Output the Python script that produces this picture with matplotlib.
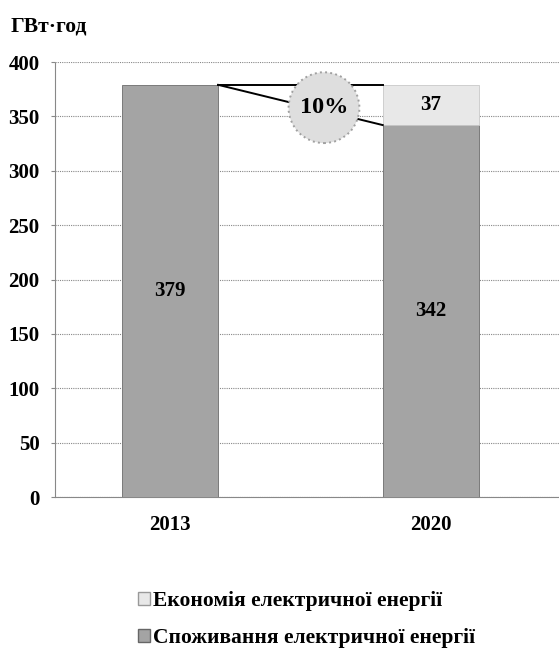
import matplotlib.pyplot as plt
from matplotlib.patches import Patch

years = ["2013", "2020"]
consumption = [379, 342]
saving = [0, 37]
saving_pct = "10%"
y_ticks = [0, 50, 100, 150, 200, 250, 300, 350, 400]
labels = ["Економія електричної енергії", "Споживання електричної енергії"]

plt.rcParams['font.family'] = ['Liberation Serif', 'DejaVu Serif']
plt.rcParams['font.weight'] = 'bold'

fig = plt.figure(figsize=(5.59, 6.52), dpi=100)
ax = fig.add_axes([0.0984, 0.2377, 0.9016, 0.6672])

x = list(range(len(years)))
w = 0.37
c_low = "#a4a4a4"
c_top = "#e8e8e8"

ax.bar(x, consumption, width=w, color=c_low, edgecolor="#7a7a7a", linewidth=0.7, zorder=3)
ax.bar(x[1], saving[1], bottom=consumption[1], width=w, color=c_top,
       edgecolor="#c8c8c8", linewidth=0.6, zorder=3)

for xi, v in zip(x, consumption):
    ax.text(xi, v / 2, str(v), ha="center", va="center", fontsize=15, fontweight="bold", zorder=5)
ax.text(x[1], consumption[1] + saving[1] / 2, str(saving[1]), ha="center", va="center",
        fontsize=15, fontweight="bold", zorder=5)

# connector lines between bars
ax.plot([x[0] + w / 2, x[1] - w / 2], [consumption[0], consumption[0]], color="black", lw=1.4, zorder=4)
ax.plot([x[0] + w / 2, x[1] - w / 2], [consumption[0], consumption[1]], color="black", lw=1.4, zorder=4)

# percent bubble
ax.scatter([0.59], [358], s=2600, color="#dedede", edgecolor="#a0a0a0", linewidth=1.4,
           linestyle=":", zorder=6)
ax.text(0.59, 358, saving_pct, ha="center", va="center", fontsize=17.5, fontweight="bold", zorder=7)

ax.set_xlim(-0.44, 1.49)
ax.set_ylim(0, 400)
ax.set_yticks(y_ticks)
ax.set_xticks(x)
ax.set_xticklabels(years)
ax.tick_params(axis="y", labelsize=15, length=3, color="#888888", pad=8)
ax.tick_params(axis="x", labelsize=15, length=0, pad=13)
ax.grid(axis="y", color="#888888", linestyle=(0, (1, 1)), linewidth=0.8, zorder=0)
for s in ["top", "right"]:
    ax.spines[s].set_visible(False)
ax.spines["left"].set_color("#888888")
ax.spines["left"].set_linestyle((0, (1, 1)))
ax.spines["bottom"].set_color("#888888")
ax.spines["bottom"].set_linestyle((0, (1, 1)))

fig.text(0.018, 0.959, "ГВт·год", fontsize=15.5, fontweight="bold", ha="left", va="center")

handles = [Patch(facecolor=c_top, edgecolor="#999999"), Patch(facecolor=c_low, edgecolor="#666666")]
fig.legend(handles, labels, loc="center", bbox_to_anchor=(0.548, 0.05), frameon=False,
           fontsize=15.5, labelspacing=0.8, handlelength=0.55, handleheight=0.55, handletextpad=0.15)

fig.savefig("out.png", dpi=100)
